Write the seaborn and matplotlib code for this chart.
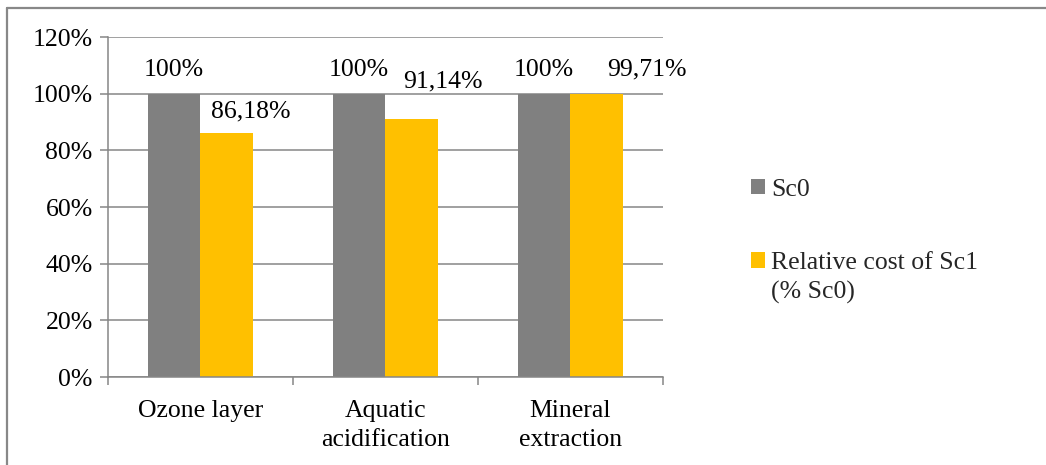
import matplotlib
matplotlib.use("Agg")
import matplotlib.pyplot as plt
import matplotlib.patches as mpatches
from matplotlib.lines import Line2D
from matplotlib.ticker import FixedLocator, FuncFormatter
import seaborn as sns
import pandas as pd

categories = ["Ozone layer", "Aquatic\nacidification", "Mineral\nextraction"]
series_names = ["Sc0", "Relative cost of Sc1\n(% Sc0)"]
sc0_values = [100.0, 100.0, 100.0]
sc1_values = [86.18, 91.14, 99.71]
y_ticks = [0, 20, 40, 60, 80, 100, 120]
colors = ["#808080", "#FFC000"]

def fmt_label(v):
    if abs(v - round(v)) < 1e-9:
        return f"{int(round(v))}%"
    return f"{v:.2f}".replace(".", ",") + "%"

df = pd.DataFrame({
    "category": categories * 2,
    "series": [series_names[0]] * 3 + [series_names[1]] * 3,
    "value": sc0_values + sc1_values,
})

sns.set_theme(style="white")
plt.rcParams["font.family"] = ["Liberation Serif", "DejaVu Serif"]
FS = 18.5

fig = plt.figure(figsize=(10.46, 4.65), dpi=100)
ax = fig.add_axes([108 / 1046, 1 - 377 / 465, (663 - 108) / 1046, (377 - 37) / 465])

sns.barplot(data=df, x="category", y="value", hue="series", palette=colors,
            width=0.568, gap=0, saturation=1, ax=ax, legend=False,
            edgecolor="none", linewidth=0)

ax.set_ylim(0, 120)
ax.set_xlim(-0.5, 2.5)
ax.set_xlabel("")
ax.set_ylabel("")
ax.yaxis.set_major_locator(FixedLocator(y_ticks))
ax.yaxis.set_major_formatter(FuncFormatter(lambda v, p: f"{int(v)}%"))
ax.grid(axis="y", color="#868686", linewidth=1.1)
ax.set_axisbelow(True)
for s in ["top", "right"]:
    ax.spines[s].set_visible(False)
for s in ["left", "bottom"]:
    ax.spines[s].set_color("#868686")
    ax.spines[s].set_linewidth(1.1)

ax.tick_params(axis="y", which="major", length=6, width=1.1, color="#868686",
               pad=5, labelsize=FS, left=True)
ax.tick_params(axis="x", which="major", length=0, pad=16.5, labelsize=FS)
ax.set_xticks([-0.5, 0.5, 1.5, 2.5], minor=True)
ax.tick_params(axis="x", which="minor", length=6, width=1.1, color="#868686",
               bottom=True, direction="out")
for t in ax.get_xticklabels():
    t.set_linespacing(1.4)
    t.set_color("black")
for t in ax.get_yticklabels():
    t.set_color("black")

# data labels (per-label pixel offsets, as placed in the original)
offsets = [
    [(0, 24), (0, 24), (0, 24)],
    [(24, 21), (31, 37), (50, 25)],
]
for ci, cont in enumerate(ax.containers):
    vals = sc0_values if ci == 0 else sc1_values
    for bi, bar in enumerate(cont):
        xc = bar.get_x() + bar.get_width() / 2
        h = bar.get_height()
        dx, dy = offsets[ci][bi]
        ax.annotate(fmt_label(vals[bi]), xy=(xc, h), xytext=(dx, dy),
                    textcoords="offset pixels", ha="center", va="center",
                    fontsize=FS, color="black", annotation_clip=False)

handles = [mpatches.Patch(facecolor=c, edgecolor="none") for c in colors]
leg = fig.legend(handles, series_names, loc="upper left",
                 bbox_to_anchor=(738 / 1046, 1 - 166 / 465), frameon=False,
                 fontsize=FS, handlelength=0.55, handleheight=0.55,
                 handletextpad=0.25, labelspacing=2.0, borderpad=0)
for t in leg.get_texts():
    t.set_linespacing(1.4)
for col in leg._legend_handle_box.get_children():
    for hp in col.get_children():
        hp.align = "top"

# chart border (left and top edges visible)
fig.add_artist(Line2D([7 / 1046, 7 / 1046], [0, 1 - 8 / 465], color="#888888",
                      linewidth=1.6, transform=fig.transFigure))
fig.add_artist(Line2D([7 / 1046, 1], [1 - 8 / 465, 1 - 8 / 465], color="#888888",
                      linewidth=1.6, transform=fig.transFigure))

fig.savefig("out.png", dpi=100)
